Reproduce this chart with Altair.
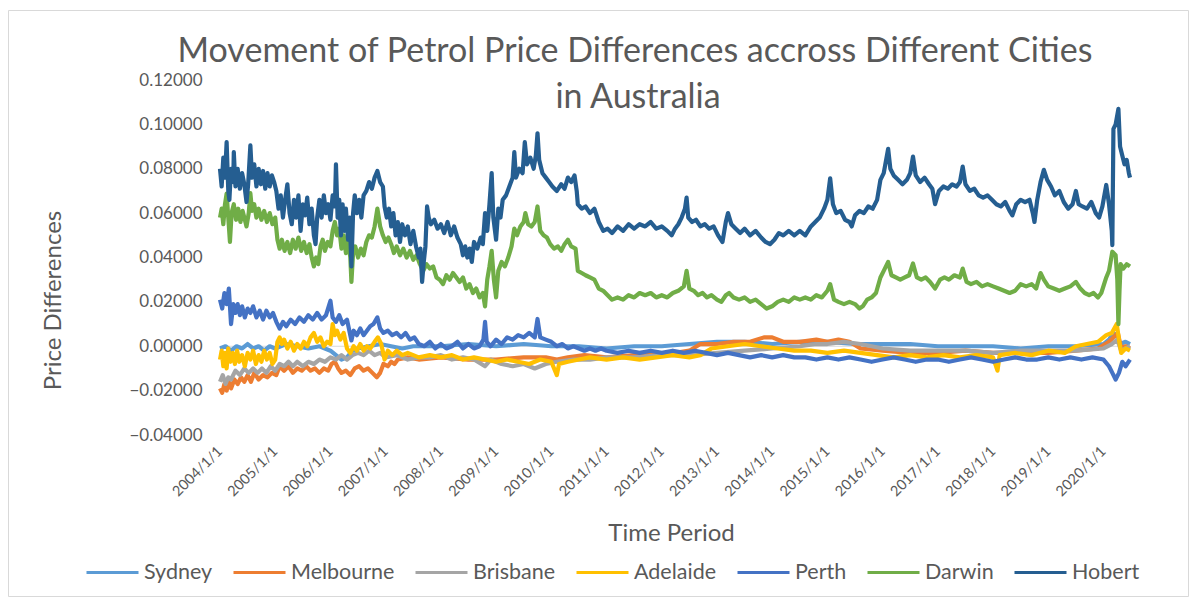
import altair as alt
import pandas as pd

CITIES = ["Sydney", "Melbourne", "Brisbane", "Adelaide", "Perth", "Darwin", "Hobert"]
COLORS = ["#5B9BD5", "#ED7D31", "#A5A5A5", "#FFC000", "#4472C4", "#70AD47", "#255E91"]
YEAR_TICKS = list(range(2004, 2021))
Y_TICKS = [-0.04, -0.02, 0.0, 0.02, 0.04, 0.06, 0.08, 0.10, 0.12]
TITLE_LINES = ["Movement of Petrol Price Differences accross Different Cities", "in Australia"]

# (decimal year, price difference)
SYDNEY = [
    (2004.00, -0.001), (2004.10, 0.000), (2004.20, -0.002), (2004.30, 0.000), (2004.40, -0.001),
    (2004.50, 0.001), (2004.60, -0.001), (2004.70, 0.000), (2004.80, -0.002), (2004.90, 0.000),
    (2005.00, -0.001), (2005.20, 0.001), (2005.40, 0.000), (2005.60, -0.001), (2005.80, 0.000),
    (2006.00, -0.002), (2006.10, -0.004), (2006.20, -0.006), (2006.30, -0.005), (2006.40, -0.002),
    (2006.50, -0.001), (2006.70, 0.000), (2006.90, 0.001), (2007.10, 0.000), (2007.30, -0.001),
    (2007.50, 0.000), (2008.00, 0.000), (2008.50, 0.001), (2009.00, 0.000), (2009.50, 0.001),
    (2010.00, 0.000), (2010.50, 0.000), (2011.00, -0.001), (2011.50, 0.000), (2012.00, 0.000),
    (2012.50, 0.001), (2013.00, 0.002), (2013.50, 0.002), (2014.00, 0.001), (2014.50, 0.002),
    (2015.00, 0.002), (2015.50, 0.001), (2016.00, 0.001), (2016.50, 0.001), (2017.00, 0.000),
    (2017.50, 0.000), (2018.00, 0.000), (2018.50, -0.001), (2019.00, 0.000), (2019.50, 0.000),
    (2020.00, 0.001), (2020.10, 0.003), (2020.18, 0.006), (2020.24, 0.005), (2020.30, 0.001),
    (2020.40, 0.002), (2020.48, 0.001),
]

MELBOURNE = [
    (2004.00, -0.019), (2004.04, -0.021), (2004.08, -0.017), (2004.12, -0.020), (2004.16, -0.016),
    (2004.20, -0.019), (2004.26, -0.015), (2004.32, -0.017), (2004.38, -0.014), (2004.44, -0.016),
    (2004.50, -0.013), (2004.56, -0.016), (2004.62, -0.012), (2004.70, -0.015), (2004.78, -0.013),
    (2004.86, -0.014), (2004.94, -0.012), (2005.02, -0.013), (2005.08, -0.009), (2005.16, -0.011),
    (2005.24, -0.009), (2005.32, -0.012), (2005.40, -0.010), (2005.48, -0.011), (2005.56, -0.009),
    (2005.64, -0.011), (2005.72, -0.010), (2005.80, -0.012), (2005.88, -0.010), (2005.96, -0.011),
    (2006.02, -0.008), (2006.08, -0.007), (2006.14, -0.010), (2006.20, -0.012), (2006.28, -0.011),
    (2006.36, -0.013), (2006.44, -0.010), (2006.52, -0.009), (2006.60, -0.011), (2006.68, -0.010),
    (2006.76, -0.012), (2006.84, -0.014), (2006.90, -0.012), (2006.96, -0.008), (2007.04, -0.009),
    (2007.10, -0.007), (2007.16, -0.008), (2007.22, -0.006), (2007.40, -0.005), (2007.60, -0.006),
    (2008.00, -0.005), (2008.50, -0.006), (2009.00, -0.006), (2009.50, -0.005), (2009.90, -0.005),
    (2010.10, -0.006), (2010.30, -0.005), (2010.60, -0.004), (2011.00, -0.005), (2011.50, -0.004),
    (2012.00, -0.004), (2012.50, -0.002), (2012.70, 0.001), (2013.00, 0.001), (2013.30, 0.002),
    (2013.60, 0.002), (2013.85, 0.004), (2014.00, 0.004), (2014.20, 0.002), (2014.50, 0.002),
    (2014.80, 0.003), (2015.00, 0.002), (2015.20, 0.003), (2015.40, 0.002), (2015.60, -0.001),
    (2016.00, -0.002), (2016.50, -0.003), (2017.00, -0.003), (2017.50, -0.002), (2018.00, -0.003),
    (2018.50, -0.003), (2019.00, -0.003), (2019.50, -0.002), (2019.90, -0.001), (2020.10, 0.002),
    (2020.18, 0.004), (2020.26, 0.006), (2020.32, -0.001), (2020.40, 0.000), (2020.48, -0.001),
]

BRISBANE = [
    (2004.00, -0.016), (2004.05, -0.013), (2004.10, -0.017), (2004.15, -0.014), (2004.20, -0.015),
    (2004.28, -0.011), (2004.36, -0.013), (2004.44, -0.010), (2004.52, -0.012), (2004.60, -0.010),
    (2004.68, -0.012), (2004.76, -0.010), (2004.84, -0.012), (2004.92, -0.009), (2005.00, -0.011),
    (2005.08, -0.008), (2005.16, -0.009), (2005.24, -0.007), (2005.32, -0.009), (2005.40, -0.007),
    (2005.50, -0.009), (2005.60, -0.007), (2005.70, -0.008), (2005.80, -0.006), (2005.90, -0.007),
    (2006.00, -0.005), (2006.10, -0.006), (2006.20, -0.004), (2006.30, -0.006), (2006.40, -0.004),
    (2006.50, -0.003), (2006.60, -0.004), (2006.70, -0.002), (2006.80, -0.004), (2006.90, -0.003),
    (2007.00, -0.005), (2007.20, -0.004), (2007.40, -0.006), (2007.60, -0.005), (2007.80, -0.005),
    (2008.00, -0.004), (2008.20, -0.006), (2008.40, -0.005), (2008.60, -0.006), (2008.80, -0.009),
    (2008.90, -0.006), (2009.10, -0.008), (2009.30, -0.009), (2009.50, -0.008), (2009.70, -0.010),
    (2009.90, -0.008), (2010.10, -0.007), (2010.40, -0.006), (2010.70, -0.006), (2011.00, -0.005),
    (2011.50, -0.005), (2012.00, -0.004), (2012.50, -0.004), (2013.00, -0.003), (2013.50, -0.002),
    (2014.00, -0.001), (2014.50, 0.000), (2014.80, 0.001), (2015.00, 0.001), (2015.30, 0.002),
    (2015.60, 0.001), (2016.00, -0.001), (2016.50, -0.002), (2017.00, -0.002), (2017.50, -0.002),
    (2018.00, -0.003), (2018.50, -0.002), (2019.00, -0.002), (2019.50, -0.002), (2020.00, -0.001),
    (2020.15, 0.001), (2020.25, 0.003), (2020.32, -0.002), (2020.40, -0.001), (2020.48, 0.000),
]

ADELAIDE = [
    (2004.00, -0.006), (2004.03, -0.002), (2004.06, -0.009), (2004.09, -0.003), (2004.12, -0.010),
    (2004.15, -0.001), (2004.19, -0.007), (2004.23, -0.003), (2004.27, -0.008), (2004.31, -0.002),
    (2004.35, -0.007), (2004.40, -0.004), (2004.45, -0.009), (2004.50, -0.003), (2004.55, -0.006),
    (2004.60, -0.002), (2004.65, -0.008), (2004.70, -0.004), (2004.75, -0.007), (2004.80, -0.002),
    (2004.85, -0.006), (2004.90, -0.003), (2004.95, -0.008), (2005.00, -0.006), (2005.04, 0.002),
    (2005.08, 0.004), (2005.12, 0.001), (2005.16, 0.003), (2005.22, -0.001), (2005.28, 0.002),
    (2005.34, -0.002), (2005.40, 0.001), (2005.46, -0.001), (2005.52, 0.002), (2005.58, 0.000),
    (2005.64, 0.004), (2005.70, 0.006), (2005.76, 0.002), (2005.82, 0.004), (2005.88, 0.000),
    (2005.94, 0.002), (2006.00, 0.001), (2006.04, 0.010), (2006.08, 0.005), (2006.12, 0.007),
    (2006.18, 0.003), (2006.24, 0.006), (2006.30, -0.001), (2006.36, -0.003), (2006.42, 0.000),
    (2006.48, -0.002), (2006.54, 0.001), (2006.60, -0.002), (2006.66, 0.000), (2006.72, -0.001),
    (2006.80, 0.002), (2006.86, 0.004), (2006.92, 0.001), (2006.98, -0.006), (2007.04, -0.002),
    (2007.12, -0.004), (2007.20, -0.002), (2007.30, -0.004), (2007.40, -0.003), (2007.50, -0.004),
    (2007.60, -0.005), (2007.80, -0.004), (2008.00, -0.005), (2008.20, -0.004), (2008.40, -0.006),
    (2008.60, -0.005), (2008.80, -0.006), (2009.00, -0.007), (2009.20, -0.006), (2009.40, -0.007),
    (2009.60, -0.008), (2009.80, -0.006), (2010.00, -0.007), (2010.10, -0.013), (2010.14, -0.008),
    (2010.30, -0.007), (2010.50, -0.006), (2010.70, -0.005), (2011.00, -0.006), (2011.30, -0.005),
    (2011.60, -0.006), (2011.90, -0.005), (2012.20, -0.004), (2012.50, -0.005), (2012.70, -0.004),
    (2012.90, -0.001), (2013.20, 0.000), (2013.50, 0.001), (2013.80, 0.000), (2014.10, -0.001),
    (2014.40, -0.002), (2014.70, -0.002), (2015.00, -0.003), (2015.30, -0.002), (2015.60, -0.003),
    (2015.90, -0.004), (2016.20, -0.005), (2016.50, -0.004), (2016.80, -0.005), (2017.10, -0.004),
    (2017.40, -0.005), (2017.70, -0.004), (2018.00, -0.005), (2018.08, -0.011), (2018.12, -0.004),
    (2018.40, -0.003), (2018.70, -0.004), (2019.00, -0.002), (2019.30, -0.003), (2019.50, 0.000),
    (2019.70, 0.001), (2019.90, 0.002), (2020.05, 0.005), (2020.15, 0.006), (2020.24, 0.010),
    (2020.28, 0.003), (2020.32, -0.003), (2020.40, -0.001), (2020.48, -0.002),
]

PERTH = [
    (2004.00, 0.021), (2004.04, 0.017), (2004.08, 0.024), (2004.12, 0.019), (2004.16, 0.026),
    (2004.20, 0.010), (2004.24, 0.019), (2004.28, 0.015), (2004.32, 0.019), (2004.36, 0.014),
    (2004.40, 0.018), (2004.45, 0.013), (2004.50, 0.017), (2004.55, 0.015), (2004.60, 0.018),
    (2004.66, 0.013), (2004.72, 0.016), (2004.78, 0.012), (2004.84, 0.016), (2004.90, 0.013),
    (2004.96, 0.015), (2005.02, 0.011), (2005.08, 0.008), (2005.14, 0.011), (2005.20, 0.009),
    (2005.28, 0.012), (2005.36, 0.010), (2005.44, 0.013), (2005.52, 0.011), (2005.60, 0.014),
    (2005.68, 0.012), (2005.76, 0.015), (2005.84, 0.012), (2005.92, 0.014), (2006.00, 0.0205),
    (2006.04, 0.013), (2006.10, 0.011), (2006.16, 0.014), (2006.22, 0.010), (2006.30, 0.012),
    (2006.38, 0.0026), (2006.42, 0.007), (2006.48, 0.005), (2006.54, 0.008), (2006.60, 0.005),
    (2006.66, 0.007), (2006.72, 0.009), (2006.78, 0.010), (2006.85, 0.013), (2006.90, 0.008),
    (2006.96, 0.006), (2007.04, 0.007), (2007.12, 0.005), (2007.20, 0.006), (2007.28, 0.004),
    (2007.36, 0.006), (2007.44, 0.003), (2007.52, 0.004), (2007.60, 0.001), (2007.70, 0.000),
    (2007.80, 0.002), (2007.90, -0.001), (2008.00, 0.001), (2008.10, -0.001), (2008.20, 0.000),
    (2008.30, 0.002), (2008.40, -0.001), (2008.50, 0.001), (2008.60, -0.001), (2008.70, 0.000),
    (2008.77, 0.003), (2008.80, 0.011), (2008.83, 0.002), (2008.90, 0.000), (2009.00, 0.003),
    (2009.10, 0.001), (2009.20, 0.004), (2009.30, 0.003), (2009.40, 0.005), (2009.50, 0.004),
    (2009.60, 0.006), (2009.70, 0.004), (2009.75, 0.0123), (2009.80, 0.004), (2009.90, 0.003),
    (2010.00, 0.002), (2010.10, 0.000), (2010.20, 0.001), (2010.30, -0.001), (2010.40, 0.000),
    (2010.50, -0.001), (2010.60, -0.002), (2010.70, -0.001), (2010.80, -0.002), (2010.90, -0.001),
    (2011.00, -0.002), (2011.20, -0.003), (2011.40, -0.002), (2011.60, -0.003), (2011.80, -0.002),
    (2012.00, -0.003), (2012.20, -0.002), (2012.40, -0.003), (2012.60, -0.002), (2012.80, -0.003),
    (2013.00, -0.004), (2013.20, -0.003), (2013.40, -0.004), (2013.60, -0.005), (2013.80, -0.004),
    (2014.00, -0.005), (2014.20, -0.004), (2014.40, -0.005), (2014.60, -0.005), (2014.80, -0.006),
    (2015.00, -0.005), (2015.20, -0.006), (2015.40, -0.005), (2015.60, -0.006), (2015.80, -0.007),
    (2016.00, -0.006), (2016.20, -0.005), (2016.40, -0.006), (2016.60, -0.007), (2016.80, -0.006),
    (2017.00, -0.006), (2017.20, -0.007), (2017.40, -0.006), (2017.60, -0.005), (2017.80, -0.006),
    (2018.00, -0.007), (2018.20, -0.006), (2018.40, -0.005), (2018.60, -0.006), (2018.80, -0.006),
    (2019.00, -0.005), (2019.20, -0.006), (2019.40, -0.005), (2019.60, -0.006), (2019.80, -0.005),
    (2020.00, -0.006), (2020.10, -0.009), (2020.16, -0.012), (2020.22, -0.015), (2020.28, -0.012),
    (2020.34, -0.007), (2020.40, -0.009), (2020.48, -0.006),
]

DARWIN = [
    (2004.00, 0.058), (2004.03, 0.062), (2004.06, 0.055), (2004.09, 0.064), (2004.12, 0.0688),
    (2004.15, 0.058), (2004.18, 0.047), (2004.21, 0.060), (2004.25, 0.064), (2004.29, 0.057),
    (2004.33, 0.062), (2004.37, 0.056), (2004.41, 0.061), (2004.45, 0.057), (2004.48, 0.054),
    (2004.52, 0.060), (2004.55, 0.069), (2004.58, 0.061), (2004.62, 0.064), (2004.66, 0.058),
    (2004.70, 0.062), (2004.75, 0.057), (2004.80, 0.061), (2004.85, 0.056), (2004.90, 0.060),
    (2004.95, 0.055), (2005.00, 0.058), (2005.04, 0.048), (2005.08, 0.044), (2005.12, 0.048),
    (2005.17, 0.043), (2005.22, 0.047), (2005.27, 0.042), (2005.32, 0.048), (2005.37, 0.044),
    (2005.42, 0.049), (2005.47, 0.043), (2005.52, 0.047), (2005.57, 0.042), (2005.62, 0.046),
    (2005.66, 0.040), (2005.70, 0.036), (2005.74, 0.040), (2005.78, 0.037), (2005.82, 0.045),
    (2005.86, 0.048), (2005.90, 0.043), (2005.95, 0.047), (2006.00, 0.045), (2006.04, 0.052),
    (2006.08, 0.056), (2006.12, 0.050), (2006.16, 0.053), (2006.20, 0.044), (2006.24, 0.050),
    (2006.28, 0.042), (2006.32, 0.048), (2006.36, 0.040), (2006.38, 0.029), (2006.41, 0.042),
    (2006.45, 0.045), (2006.50, 0.040), (2006.55, 0.044), (2006.60, 0.041), (2006.65, 0.047),
    (2006.70, 0.050), (2006.75, 0.049), (2006.80, 0.054), (2006.85, 0.062), (2006.90, 0.054),
    (2006.95, 0.050), (2007.00, 0.047), (2007.05, 0.049), (2007.10, 0.046), (2007.15, 0.042),
    (2007.20, 0.045), (2007.26, 0.041), (2007.32, 0.044), (2007.38, 0.040), (2007.44, 0.043),
    (2007.50, 0.039), (2007.56, 0.041), (2007.62, 0.037), (2007.68, 0.034), (2007.74, 0.037),
    (2007.80, 0.035), (2007.86, 0.036), (2007.92, 0.031), (2007.98, 0.030), (2008.04, 0.028),
    (2008.10, 0.032), (2008.16, 0.030), (2008.22, 0.033), (2008.28, 0.031), (2008.34, 0.029),
    (2008.40, 0.031), (2008.46, 0.026), (2008.52, 0.028), (2008.58, 0.024), (2008.64, 0.026),
    (2008.70, 0.022), (2008.76, 0.024), (2008.80, 0.018), (2008.84, 0.030), (2008.88, 0.036),
    (2008.92, 0.043), (2008.96, 0.030), (2009.00, 0.022), (2009.04, 0.034), (2009.10, 0.038),
    (2009.16, 0.036), (2009.22, 0.040), (2009.28, 0.045), (2009.33, 0.053), (2009.38, 0.050),
    (2009.44, 0.054), (2009.50, 0.056), (2009.53, 0.060), (2009.58, 0.055), (2009.64, 0.054),
    (2009.70, 0.056), (2009.75, 0.063), (2009.80, 0.052), (2009.86, 0.050), (2009.92, 0.049),
    (2009.98, 0.046), (2010.05, 0.044), (2010.12, 0.045), (2010.18, 0.043), (2010.24, 0.046),
    (2010.30, 0.048), (2010.36, 0.045), (2010.44, 0.044), (2010.48, 0.034), (2010.55, 0.033),
    (2010.62, 0.032), (2010.70, 0.031), (2010.78, 0.030), (2010.86, 0.026), (2010.94, 0.025),
    (2011.02, 0.023), (2011.10, 0.021), (2011.20, 0.022), (2011.30, 0.021), (2011.40, 0.023),
    (2011.50, 0.022), (2011.60, 0.024), (2011.70, 0.023), (2011.80, 0.024), (2011.90, 0.022),
    (2012.00, 0.023), (2012.10, 0.022), (2012.20, 0.024), (2012.30, 0.025), (2012.40, 0.027),
    (2012.45, 0.034), (2012.50, 0.026), (2012.58, 0.025), (2012.66, 0.023), (2012.74, 0.024),
    (2012.82, 0.022), (2012.90, 0.023), (2013.00, 0.021), (2013.08, 0.020), (2013.16, 0.023),
    (2013.22, 0.024), (2013.30, 0.022), (2013.40, 0.021), (2013.50, 0.022), (2013.60, 0.020),
    (2013.70, 0.021), (2013.80, 0.019), (2013.90, 0.017), (2014.00, 0.018), (2014.10, 0.020),
    (2014.20, 0.021), (2014.30, 0.020), (2014.40, 0.022), (2014.50, 0.021), (2014.60, 0.022),
    (2014.70, 0.021), (2014.80, 0.023), (2014.90, 0.022), (2015.00, 0.025), (2015.05, 0.028),
    (2015.12, 0.021), (2015.20, 0.020), (2015.30, 0.019), (2015.40, 0.020), (2015.50, 0.019),
    (2015.58, 0.017), (2015.64, 0.018), (2015.72, 0.021), (2015.80, 0.022), (2015.88, 0.024),
    (2015.96, 0.031), (2016.02, 0.034), (2016.10, 0.038), (2016.16, 0.032), (2016.24, 0.031),
    (2016.32, 0.030), (2016.40, 0.031), (2016.48, 0.032), (2016.55, 0.0373), (2016.62, 0.031),
    (2016.70, 0.030), (2016.78, 0.031), (2016.86, 0.029), (2016.95, 0.026), (2017.04, 0.030),
    (2017.12, 0.031), (2017.20, 0.030), (2017.30, 0.032), (2017.40, 0.031), (2017.45, 0.035),
    (2017.52, 0.029), (2017.60, 0.028), (2017.70, 0.029), (2017.80, 0.027), (2017.90, 0.028),
    (2018.00, 0.027), (2018.10, 0.026), (2018.20, 0.025), (2018.30, 0.024), (2018.40, 0.025),
    (2018.50, 0.028), (2018.60, 0.027), (2018.70, 0.028), (2018.78, 0.026), (2018.86, 0.033),
    (2018.92, 0.030), (2019.00, 0.027), (2019.10, 0.026), (2019.20, 0.025), (2019.30, 0.026),
    (2019.40, 0.027), (2019.50, 0.029), (2019.58, 0.026), (2019.66, 0.024), (2019.74, 0.023),
    (2019.82, 0.024), (2019.90, 0.022), (2019.96, 0.024), (2020.05, 0.031), (2020.10, 0.034),
    (2020.16, 0.0426), (2020.22, 0.041), (2020.25, 0.030), (2020.27, 0.010), (2020.29, 0.025),
    (2020.31, 0.037), (2020.36, 0.035), (2020.42, 0.037), (2020.48, 0.036),
]

HOBERT = [
    (2004.00, 0.080), (2004.03, 0.072), (2004.06, 0.085), (2004.09, 0.076), (2004.12, 0.092),
    (2004.15, 0.070), (2004.17, 0.066), (2004.20, 0.080), (2004.24, 0.074), (2004.25, 0.0875),
    (2004.28, 0.072), (2004.32, 0.080), (2004.36, 0.071), (2004.40, 0.078), (2004.44, 0.073),
    (2004.48, 0.065), (2004.51, 0.073), (2004.55, 0.0905), (2004.58, 0.076), (2004.62, 0.082),
    (2004.66, 0.072), (2004.70, 0.080), (2004.74, 0.073), (2004.78, 0.079), (2004.82, 0.071),
    (2004.86, 0.078), (2004.90, 0.072), (2004.94, 0.077), (2004.98, 0.074), (2005.02, 0.070),
    (2005.06, 0.062), (2005.10, 0.068), (2005.14, 0.058), (2005.18, 0.066), (2005.22, 0.073),
    (2005.26, 0.060), (2005.30, 0.055), (2005.34, 0.066), (2005.38, 0.058), (2005.42, 0.068),
    (2005.46, 0.052), (2005.50, 0.064), (2005.54, 0.059), (2005.58, 0.067), (2005.62, 0.055),
    (2005.66, 0.062), (2005.70, 0.050), (2005.73, 0.046), (2005.76, 0.058), (2005.80, 0.066),
    (2005.84, 0.058), (2005.88, 0.068), (2005.92, 0.060), (2005.96, 0.064), (2006.00, 0.057),
    (2006.04, 0.068), (2006.08, 0.063), (2006.10, 0.082), (2006.13, 0.058), (2006.16, 0.066),
    (2006.19, 0.050), (2006.22, 0.064), (2006.25, 0.052), (2006.28, 0.062), (2006.32, 0.048),
    (2006.35, 0.058), (2006.38, 0.036), (2006.41, 0.060), (2006.44, 0.068), (2006.48, 0.060),
    (2006.52, 0.066), (2006.56, 0.058), (2006.60, 0.068), (2006.65, 0.070), (2006.70, 0.074),
    (2006.75, 0.071), (2006.80, 0.076), (2006.85, 0.079), (2006.90, 0.074), (2006.95, 0.072),
    (2006.98, 0.063), (2007.02, 0.058), (2007.06, 0.062), (2007.10, 0.054), (2007.14, 0.060),
    (2007.18, 0.050), (2007.22, 0.056), (2007.26, 0.047), (2007.30, 0.055), (2007.35, 0.050),
    (2007.40, 0.054), (2007.45, 0.046), (2007.50, 0.052), (2007.55, 0.045), (2007.60, 0.040),
    (2007.63, 0.044), (2007.66, 0.029), (2007.69, 0.038), (2007.72, 0.045), (2007.75, 0.063),
    (2007.78, 0.058), (2007.82, 0.055), (2007.88, 0.057), (2007.94, 0.053), (2008.00, 0.055),
    (2008.06, 0.051), (2008.12, 0.056), (2008.18, 0.050), (2008.24, 0.054), (2008.30, 0.049),
    (2008.36, 0.046), (2008.40, 0.041), (2008.44, 0.045), (2008.48, 0.040), (2008.52, 0.044),
    (2008.56, 0.038), (2008.60, 0.047), (2008.66, 0.044), (2008.72, 0.049), (2008.76, 0.046),
    (2008.80, 0.060), (2008.84, 0.052), (2008.88, 0.064), (2008.92, 0.078), (2008.95, 0.058),
    (2009.00, 0.048), (2009.04, 0.062), (2009.08, 0.058), (2009.12, 0.066), (2009.18, 0.068),
    (2009.24, 0.072), (2009.30, 0.076), (2009.33, 0.0875), (2009.36, 0.076), (2009.42, 0.080),
    (2009.48, 0.078), (2009.52, 0.092), (2009.56, 0.082), (2009.62, 0.085), (2009.68, 0.080),
    (2009.72, 0.086), (2009.75, 0.096), (2009.78, 0.084), (2009.84, 0.078), (2009.90, 0.076),
    (2009.96, 0.074), (2010.02, 0.072), (2010.10, 0.070), (2010.18, 0.073), (2010.24, 0.071),
    (2010.30, 0.076), (2010.36, 0.074), (2010.42, 0.077), (2010.46, 0.070), (2010.48, 0.064),
    (2010.55, 0.062), (2010.62, 0.063), (2010.70, 0.060), (2010.78, 0.062), (2010.86, 0.056),
    (2010.94, 0.052), (2011.02, 0.053), (2011.10, 0.051), (2011.20, 0.054), (2011.30, 0.052),
    (2011.40, 0.055), (2011.50, 0.053), (2011.60, 0.055), (2011.70, 0.054), (2011.80, 0.056),
    (2011.90, 0.053), (2012.00, 0.054), (2012.10, 0.052), (2012.18, 0.050), (2012.24, 0.053),
    (2012.30, 0.055), (2012.36, 0.058), (2012.42, 0.062), (2012.45, 0.067), (2012.48, 0.058),
    (2012.55, 0.056), (2012.62, 0.057), (2012.70, 0.054), (2012.78, 0.055), (2012.86, 0.053),
    (2012.94, 0.054), (2013.02, 0.050), (2013.10, 0.047), (2013.16, 0.056), (2013.20, 0.060),
    (2013.26, 0.055), (2013.34, 0.053), (2013.42, 0.051), (2013.50, 0.053), (2013.60, 0.050),
    (2013.70, 0.052), (2013.80, 0.049), (2013.88, 0.047), (2013.96, 0.046), (2014.04, 0.048),
    (2014.12, 0.051), (2014.20, 0.050), (2014.30, 0.052), (2014.40, 0.050), (2014.50, 0.052),
    (2014.60, 0.050), (2014.70, 0.054), (2014.78, 0.056), (2014.86, 0.058), (2014.94, 0.062),
    (2015.00, 0.066), (2015.05, 0.0757), (2015.10, 0.064), (2015.16, 0.060), (2015.24, 0.061),
    (2015.32, 0.057), (2015.40, 0.056), (2015.44, 0.054), (2015.50, 0.059), (2015.58, 0.061),
    (2015.66, 0.060), (2015.74, 0.063), (2015.82, 0.062), (2015.90, 0.066), (2015.96, 0.075),
    (2016.02, 0.078), (2016.10, 0.089), (2016.14, 0.080), (2016.20, 0.077), (2016.28, 0.075),
    (2016.36, 0.073), (2016.44, 0.075), (2016.50, 0.078), (2016.55, 0.0855), (2016.60, 0.077),
    (2016.68, 0.074), (2016.76, 0.076), (2016.84, 0.073), (2016.90, 0.071), (2016.95, 0.064),
    (2017.02, 0.070), (2017.10, 0.072), (2017.18, 0.071), (2017.26, 0.073), (2017.34, 0.072),
    (2017.40, 0.074), (2017.45, 0.081), (2017.50, 0.073), (2017.58, 0.070), (2017.66, 0.071),
    (2017.74, 0.068), (2017.82, 0.067), (2017.90, 0.068), (2017.98, 0.066), (2018.06, 0.064),
    (2018.14, 0.063), (2018.22, 0.065), (2018.30, 0.061), (2018.35, 0.059), (2018.42, 0.064),
    (2018.50, 0.066), (2018.58, 0.065), (2018.66, 0.066), (2018.72, 0.060), (2018.75, 0.056),
    (2018.80, 0.066), (2018.86, 0.074), (2018.92, 0.0795), (2018.98, 0.075), (2019.05, 0.072),
    (2019.12, 0.068), (2019.20, 0.070), (2019.28, 0.065), (2019.36, 0.062), (2019.44, 0.064),
    (2019.50, 0.070), (2019.55, 0.064), (2019.62, 0.063), (2019.70, 0.062), (2019.78, 0.065),
    (2019.86, 0.060), (2019.92, 0.058), (2019.98, 0.063), (2020.05, 0.0727), (2020.10, 0.064),
    (2020.15, 0.052), (2020.16, 0.0456), (2020.18, 0.098), (2020.22, 0.100), (2020.27, 0.107),
    (2020.30, 0.090), (2020.34, 0.086), (2020.38, 0.082), (2020.42, 0.084), (2020.46, 0.078),
    (2020.48, 0.076),
]

SERIES_POINTS = [SYDNEY, MELBOURNE, BRISBANE, ADELAIDE, PERTH, DARWIN, HOBERT]

frames = []
for city, pts in zip(CITIES, SERIES_POINTS):
    frames.append(pd.DataFrame({
        "city": city,
        "t": [p[0] for p in pts],
        "v": [p[1] for p in pts],
    }))
df = pd.concat(frames, ignore_index=True)
one = pd.DataFrame({"a": [0]})

W, H = 910, 355
FONT = "Lato"
GREY = "#595959"

x_enc = alt.X(
    "t:Q",
    scale=alt.Scale(domain=[2004, 2020.48], nice=False, zero=False),
    axis=alt.Axis(
        values=YEAR_TICKS, labelExpr="datum.value + '/1/1'", labelAngle=-45,
        labelAlign="right", labelBaseline="middle", labelPadding=14,
        labelFlush=False, labelOverlap=False, labelFont=FONT, labelFontSize=14.5,
        labelColor=GREY, ticks=False, domain=False, grid=False,
        title="Time Period", titleFont=FONT, titleFontSize=24, titleFontWeight="normal",
        titleColor=GREY, titleX=451, titleY=98, titleBaseline="middle", titleAlign="center",
    ),
)
y_enc = alt.Y(
    "v:Q",
    scale=alt.Scale(domain=[-0.04, 0.12], nice=False, zero=False),
    axis=alt.Axis(
        values=Y_TICKS, format=".5f", labelFont=FONT, labelFontSize=17, labelColor=GREY,
        labelPadding=18, ticks=False, domain=False, grid=False,
        title="Price Differences", titleFont=FONT, titleFontSize=24, titleFontWeight="normal",
        titleColor=GREY, titleX=-167, titleY=220, titleBaseline="middle", titleAlign="center",
    ),
)
color_enc = alt.Color(
    "city:N",
    scale=alt.Scale(domain=CITIES, range=COLORS),
    legend=alt.Legend(
        orient="none", legendX=-135, legendY=465, direction="horizontal", title=None,
        symbolType="stroke", symbolSize=2704, symbolStrokeWidth=3,
        labelFont=FONT, labelFontSize=21.5, labelColor=GREY, labelOffset=4,
        columnPadding=14, padding=0,
    ),
)

base = alt.Chart(df).encode(x=x_enc, y=y_enc, color=color_enc)
line_layers = [
    base.transform_filter(alt.datum.city == c).mark_line(strokeWidth=4.2, strokeJoin="round")
    for c in CITIES
]

border = alt.Chart(one).mark_rect(fillOpacity=0, stroke="#D9D9D9", strokeWidth=1).encode(
    x=alt.value(-211.5), x2=alt.value(968.5), y=alt.value(-69.5), y2=alt.value(516.5)
)
title1 = alt.Chart(one).mark_text(
    font=FONT, fontSize=34, fontWeight="normal", color=GREY, align="center", baseline="alphabetic"
).encode(x=alt.value(415), y=alt.value(-18), text=alt.value(TITLE_LINES[0]))
title2 = alt.Chart(one).mark_text(
    font=FONT, fontSize=34, fontWeight="normal", color=GREY, align="center", baseline="alphabetic"
).encode(x=alt.value(418), y=alt.value(28), text=alt.value(TITLE_LINES[1]))
zero = alt.Chart(one).mark_rule(color="#D9D9D9", strokeWidth=1).encode(y=alt.datum(0))

chart = alt.layer(border, title1, title2, zero, *line_layers).properties(
    width=W, height=H,
    autosize=alt.AutoSizeParams(type="none"),
    padding={"left": 212, "top": 72, "right": 59, "bottom": 162},
).configure_view(strokeWidth=0)

chart.save("out.html", embed_options={"renderer": "svg", "actions": False})
